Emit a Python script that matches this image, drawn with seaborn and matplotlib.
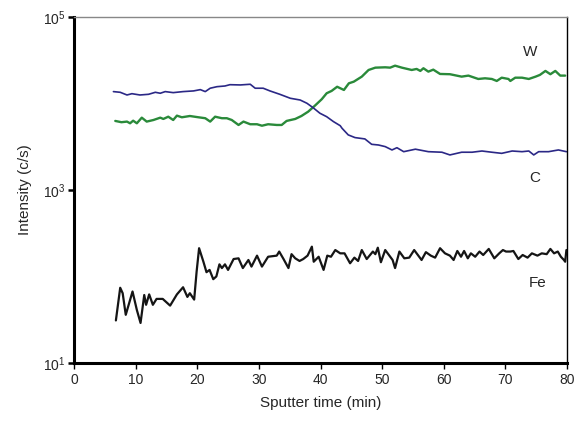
import numpy as np
import pandas as pd
import matplotlib
matplotlib.use("Agg")
import matplotlib.pyplot as plt
import seaborn as sns
from matplotlib.ticker import FixedLocator, NullLocator

# sputter time (min) and intensity (c/s)
fe_time = [6.8, 7.5, 7.9, 8.4, 9.5, 10.2, 10.8, 11.4, 11.7, 12.2, 12.8, 13.4, 14.4, 15.6,
           16.7, 17.7, 18.4, 18.8, 19.5, 19.9, 20.3, 21.0, 21.5, 22.0, 22.6, 23.1, 23.6,
           24.0, 24.5, 25.0, 25.9, 26.7, 27.4, 28.3, 28.8, 29.7, 30.5, 31.5, 32.9, 33.3,
           34.0, 34.8, 35.3, 35.9, 36.6, 37.2, 37.9, 38.6, 38.9, 39.7, 40.5, 41.1, 41.7,
           42.4, 43.2, 43.9, 44.8, 45.5, 46.1, 46.7, 47.5, 48.5, 48.9, 49.3, 49.8, 50.5,
           51.1, 51.7, 52.1, 52.8, 53.6, 54.4, 55.2, 56.4, 57.1, 57.9, 58.6, 59.4, 60.2,
           61.0, 61.6, 62.2, 62.8, 63.3, 63.9, 64.4, 65.1, 65.8, 66.4, 67.3, 68.2, 69.0,
           69.6, 70.1, 70.8, 71.3, 72.1, 72.8, 73.6, 74.3, 75.2, 75.9, 76.7, 77.3, 77.9,
           78.5, 79.0, 79.5, 79.7, 79.9]
fe_int = [31, 74, 64, 36, 67, 41, 29, 61, 47, 62, 47, 55, 55, 46,
          62, 75, 58, 64, 54, 114, 212, 148, 112, 119, 93, 100, 138,
          125, 138, 119, 159, 162, 125, 155, 130, 174, 130, 169, 174, 194,
          159, 125, 181, 162, 151, 159, 174, 221, 148, 169, 119, 174, 169,
          202, 185, 185, 142, 165, 151, 202, 159, 194, 181, 215, 146, 202,
          177, 155, 125, 194, 162, 165, 202, 155, 191, 174, 165, 212, 185,
          174, 155, 197, 169, 197, 162, 185, 169, 194, 177, 208, 162, 185,
          202, 194, 194, 197, 159, 177, 165, 185, 174, 185, 181, 208, 185,
          194, 169, 155, 148, 202]

c_time = [6.4, 7.5, 8.6, 9.4, 10.7, 12.1, 13.2, 14.0, 14.8, 16.1, 17.7, 19.4, 20.5, 21.3,
          22.1, 23.2, 24.5, 25.3, 27.0, 28.6, 29.4, 30.7, 31.8, 33.4, 35.1, 36.7, 37.8,
          38.8, 39.9, 41.0, 42.1, 43.2, 43.5, 44.5, 45.6, 47.2, 48.3, 49.4, 50.5, 51.6,
          52.4, 53.5, 55.4, 57.5, 59.7, 61.0, 62.9, 64.6, 66.2, 67.8, 69.4, 71.1, 72.7,
          73.8, 74.6, 75.4, 77.0, 78.6, 79.9]
c_int = [13710, 13460, 12530, 12970, 12530, 12760, 13460, 13120, 13710, 13340, 13710, 13960,
         14450, 13710, 15000, 15630, 15920, 16480, 16370, 16670, 15000, 15000, 13960, 12760,
         11480, 10960, 10050, 8930, 7710, 7030, 6170, 5530, 5160, 4330, 4030, 3890, 3370,
         3310, 3170, 2900, 3080, 2770, 2960, 2770, 2730, 2540, 2730, 2730, 2820, 2730, 2650,
         2820, 2770, 2820, 2540, 2770, 2770, 2900, 2770]

w_time = [6.7, 7.7, 8.6, 9.1, 9.6, 10.2, 11.0, 11.8, 12.9, 14.0, 14.5, 15.3, 16.1, 16.7,
          17.5, 18.8, 20.2, 21.3, 22.1, 22.9, 24.0, 24.8, 25.6, 26.7, 27.5, 28.6, 29.7,
          30.5, 31.5, 32.9, 33.7, 34.5, 35.9, 36.9, 38.0, 39.1, 40.2, 41.0, 41.8, 42.7,
          43.8, 44.6, 45.4, 46.7, 47.8, 48.9, 50.5, 51.3, 52.1, 53.2, 54.8, 55.6, 56.2,
          56.7, 57.5, 58.3, 59.4, 61.0, 62.9, 64.0, 65.6, 66.7, 67.8, 68.6, 69.4, 70.5,
          70.8, 71.6, 72.7, 73.8, 74.9, 75.6, 76.5, 77.3, 78.1, 78.9, 79.7]
w_int = [6280, 6070, 6170, 5900, 6320, 5900, 6850, 6170, 6440, 6850, 6620, 7030, 6440, 7230,
         6920, 7160, 6920, 6750, 6170, 7030, 6750, 6750, 6440, 5640, 6170, 5750, 5750,
         5530, 5750, 5640, 5640, 6280, 6620, 7160, 8040, 9440, 11190, 13120, 13960, 15600,
         14320, 17100, 17860, 20420, 24380, 25940, 26180, 25940, 27350, 25940, 24380, 25060,
         23770, 25530, 23330, 24600, 21930, 21780, 20420, 20990, 19190, 19540, 19190, 18200,
         19860, 19190, 18200, 19860, 19860, 19190, 20420, 21380, 23770, 21780, 23770, 20990,
         20990]

y_ticks = [1e1, 1e3, 1e5]
y_ticklabels = [r"$\mathregular{10^{1}}$", r"$\mathregular{10^{3}}$", r"$\mathregular{10^{5}}$"]
x_ticks = [0, 10, 20, 30, 40, 50, 60, 70, 80]

sns.set_style("ticks")
plt.rcParams["font.family"] = ["Liberation Sans", "DejaVu Sans"]
plt.rcParams["mathtext.fontset"] = "custom"
plt.rcParams["mathtext.rm"] = "Liberation Sans"

fig = plt.figure(figsize=(5.78, 4.24), dpi=100)
ax = fig.add_axes([0.128, 0.144, 0.853, 0.816])

sns.lineplot(x=w_time, y=w_int, ax=ax, color="#2a8a3a", linewidth=1.7, estimator=None)
sns.lineplot(x=c_time, y=c_int, ax=ax, color="#2b2886", linewidth=1.2, estimator=None)
sns.lineplot(x=fe_time, y=fe_int, ax=ax, color="#151515", linewidth=1.6, estimator=None)

ax.set_yscale("log")
ax.set_xlim(0, 80)
ax.set_ylim(1e1, 1e5)
ax.xaxis.set_major_locator(FixedLocator(x_ticks))
ax.yaxis.set_major_locator(FixedLocator(y_ticks))
ax.yaxis.set_minor_locator(NullLocator())
ax.set_yticklabels(y_ticklabels)
ax.tick_params(axis="x", direction="out", length=4, width=1.0, labelsize=10, color="black")
ax.tick_params(axis="y", direction="out", length=4, width=1.8, labelsize=10, color="black", pad=2)

for side in ["left", "bottom"]:
    ax.spines[side].set_linewidth(2.2)
    ax.spines[side].set_color("black")
ax.spines["top"].set_visible(True)
ax.spines["top"].set_color("#888888")
ax.spines["top"].set_linewidth(1.0)
ax.spines["right"].set_visible(True)
ax.spines["right"].set_color("black")
ax.spines["right"].set_linewidth(1.0)

ax.set_xlabel("Sputter time (min)", fontsize=11, labelpad=6)
ax.set_ylabel("Intensity (c/s)", fontsize=11, labelpad=8)

ax.text(74.0, 39400, "W", fontsize=11, ha="center", va="center")
ax.text(74.8, 1376, "C", fontsize=11, ha="center", va="center")
ax.text(75.2, 84, "Fe", fontsize=11, ha="center", va="center")

fig.savefig("out.png", dpi=100)
